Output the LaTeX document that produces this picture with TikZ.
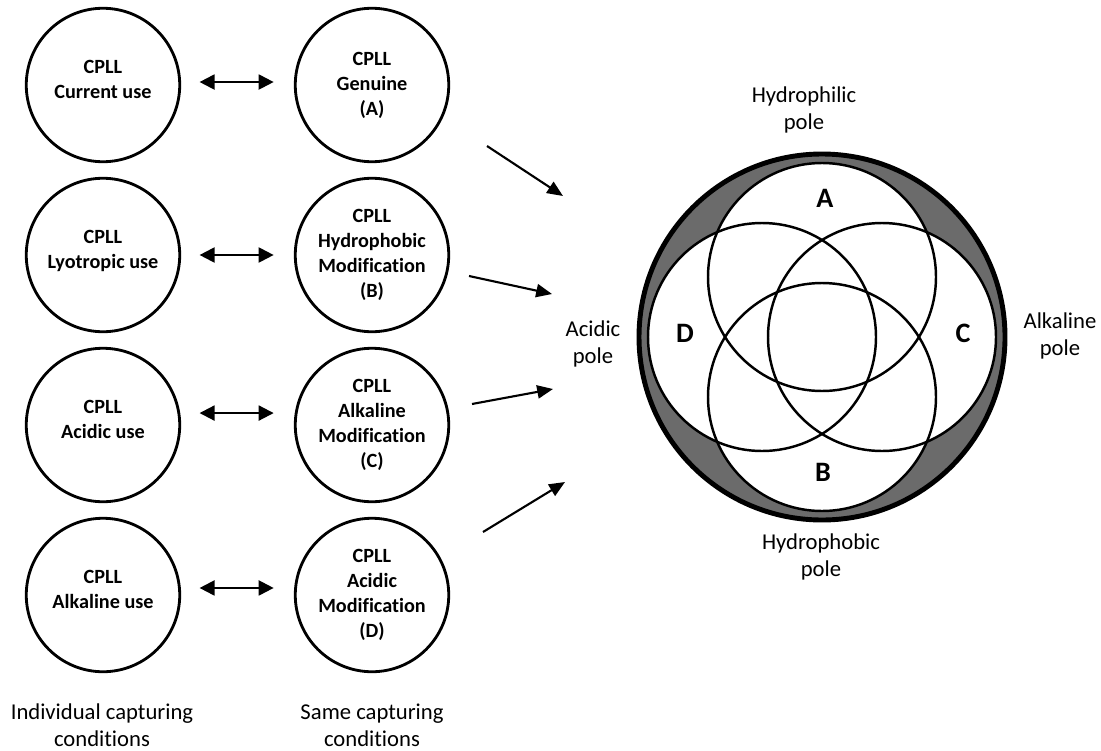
\documentclass[tikz,border=0pt]{standalone}
\usepackage{fontspec}
\setmainfont{Carlito}
\setsansfont{Carlito}[Ligatures=NoCommon]
\tikzset{every picture/.style={/utils/exec={\sffamily}}}
\usetikzlibrary{arrows.meta}
\usetikzlibrary{positioning}

\tikzset{
  ring/.style={circle, draw, line width=1.6pt, minimum size=3.07cm, inner sep=0pt,
    align=center, font=\bfseries\fontsize{11.5}{14.2}\selectfont},
  low ring/.style={ring, text depth=6.5pt},
  pole/.style={align=center, font=\fontsize{12.9}{15.6}\selectfont},
  letter/.style={font=\bfseries\fontsize{16}{18}\selectfont},
  both/.style={{Triangle[length=8.5pt,width=8.5pt]}-{Triangle[length=8.5pt,width=8.5pt]}, line width=1.2pt},
  into/.style={-{Triangle[length=9pt,width=7.5pt]}, line width=1.2pt},
  venn/.style={line width=1.4pt}
}

\begin{document}
\begin{tikzpicture}[x=0.02cm, y=-0.02cm]
  \useasboundingbox (0,0) rectangle (1101,750);

  % individual capturing conditions
  \node [low ring] (cur) at (103,85) {CPLL\\Current use};
  \node [low ring] (lyo) at (103,255) {CPLL\\Lyotropic use};
  \node [low ring] (acu) at (103,425) {CPLL\\Acidic use};
  \node [low ring] (alu) at (103,595) {CPLL\\Alkaline use};

  % same capturing conditions
  \node [ring] (gen) at (372,85) {CPLL\\Genuine\\(A)};
  \node [ring] (hyd) at (372,255) {CPLL\\Hydrophobic\\Modification\\(B)};
  \node [ring] (alm) at (372,425) {CPLL\\Alkaline\\Modification\\(C)};
  \node [ring] (acm) at (372,595) {CPLL\\Acidic\\Modification\\(D)};

  \foreach \a/\b/\s in {cur/gen/1.7, lyo/hyd/0, acu/alm/6.8, alu/acm/4}
    \draw [both, shorten <=10.5pt, shorten >=11.5pt] ([yshift=\s pt]\a.east) -- ([yshift=\s pt]\b.west);

  \node [pole] (indiv) at (102,725) {Individual capturing\\conditions};
  \node [pole] (same) at (372,725) {Same capturing\\conditions};

  % arrows into the poles
  \coordinate (s1) at (487,146); \coordinate (t1) at (563,196);
  \coordinate (s2) at (469,276); \coordinate (t2) at (552,294);
  \coordinate (s3) at (472,404); \coordinate (t3) at (553,389);
  \coordinate (s4) at (483,532); \coordinate (t4) at (565,482);
  \foreach \i in {1,...,4} \draw [into] (s\i) -- (t\i);

  % the four poles
  \coordinate (o) at (822,337);
  \fill [black!58] (o) circle [radius=183];
  \foreach \p in {(822,277),(822,397),(762,337),(882,337)}
    \fill [white] \p circle [radius=114];
  \foreach \p in {(822,277),(822,397),(762,337),(882,337)}
    \draw [venn] \p circle [radius=114];
  \draw [line width=2.8pt] (o) circle [radius=183];

  \node [letter] (la) at (825,198) {A};
  \node [letter] (lb) at (823,472) {B};
  \node [letter] (lc) at (963,333) {C};
  \node [letter] (ld) at (685,333) {D};

  \node [pole] (phil) at (804,110) {Hydrophilic\\pole};
  \node [pole] (phob) at (821,557) {Hydrophobic\\pole};
  \node [pole] (acid) at (593,344) {Acidic\\pole};
  \node [pole] (alka) at (1060,336) {Alkaline\\pole};

\end{tikzpicture}
\end{document}
